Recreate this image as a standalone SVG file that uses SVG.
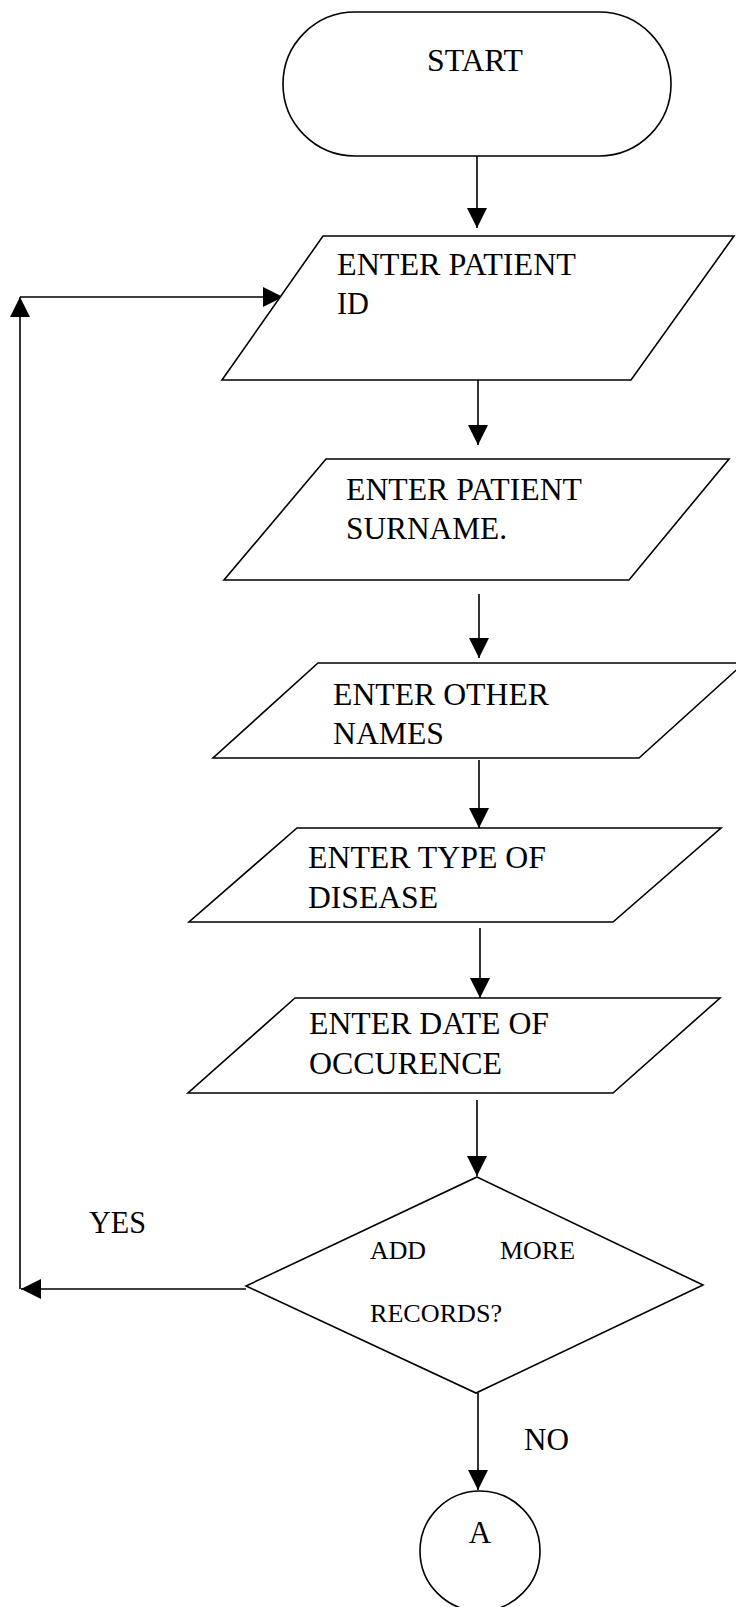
<svg xmlns="http://www.w3.org/2000/svg" width="736" height="1607" viewBox="0 0 736 1607">
<style>
.s{fill:#fff;stroke:#000;stroke-width:1.6}
.c{fill:none;stroke:#000;stroke-width:1.6}
.t{font-family:"Liberation Serif","Times New Roman",serif;font-size:31px;fill:#000}
.d{font-family:"Liberation Serif","Times New Roman",serif;font-size:25px;fill:#000}
</style>
<defs>
<marker id="ah" viewBox="0 0 20 20" refX="20" refY="10" markerWidth="20" markerHeight="20" markerUnits="userSpaceOnUse" orient="auto">
<path d="M0,0 L20,10 L0,20 z" fill="#000"/>
</marker>
</defs>
<rect width="736" height="1607" fill="#fff"/>
<g id="connectors">
<line class="c" x1="477" y1="156" x2="477" y2="228" marker-end="url(#ah)"/>
<line class="c" x1="478" y1="380" x2="478" y2="445" marker-end="url(#ah)"/>
<line class="c" x1="479" y1="594" x2="479" y2="658" marker-end="url(#ah)"/>
<line class="c" x1="479" y1="760" x2="479" y2="828" marker-end="url(#ah)"/>
<line class="c" x1="480" y1="928" x2="480" y2="998" marker-end="url(#ah)"/>
<line class="c" x1="477" y1="1100" x2="477" y2="1176" marker-end="url(#ah)"/>
<line class="c" x1="478" y1="1393" x2="478" y2="1490" marker-end="url(#ah)"/>
<line class="c" x1="246" y1="1289" x2="21" y2="1289" marker-end="url(#ah)"/>
<line class="c" x1="20" y1="1289" x2="20" y2="297" marker-end="url(#ah)"/>
<line class="c" x1="20" y1="297" x2="283" y2="297" marker-end="url(#ah)"/>
<text class="t" x="89" y="1233" font-size="30" textLength="57" lengthAdjust="spacingAndGlyphs">YES</text>
<text class="t" x="524" y="1450" font-size="30" textLength="45" lengthAdjust="spacingAndGlyphs">NO</text>
</g>
<g id="start">
<rect class="s" x="283" y="12" width="388" height="144" rx="72" ry="72"/>
<text class="t" x="427" y="71" font-size="30" textLength="96" lengthAdjust="spacingAndGlyphs">START</text>
</g>
<g id="patient-id">
<polygon class="s" points="323,236 734,236 631,380 222,380"/>
<text class="t" x="337" y="275" textLength="239" lengthAdjust="spacingAndGlyphs">ENTER PATIENT</text>
<text class="t" x="337" y="314" textLength="32" lengthAdjust="spacingAndGlyphs">ID</text>
</g>
<g id="patient-surname">
<polygon class="s" points="326,459 729,459 629,580 224,580"/>
<text class="t" x="346" y="500" textLength="236" lengthAdjust="spacingAndGlyphs">ENTER PATIENT</text>
<text class="t" x="346" y="539" textLength="161" lengthAdjust="spacingAndGlyphs">SURNAME.</text>
</g>
<g id="other-names">
<polygon class="s" points="318,663 744,663 639,758 213,758"/>
<text class="t" x="333" y="705" textLength="216" lengthAdjust="spacingAndGlyphs">ENTER OTHER</text>
<text class="t" x="333" y="744" textLength="111" lengthAdjust="spacingAndGlyphs">NAMES</text>
</g>
<g id="disease-type">
<polygon class="s" points="297,828 721,828 613,922 189,922"/>
<text class="t" x="308" y="868" textLength="238" lengthAdjust="spacingAndGlyphs">ENTER TYPE OF</text>
<text class="t" x="308" y="908" textLength="130" lengthAdjust="spacingAndGlyphs">DISEASE</text>
</g>
<g id="occurrence-date">
<polygon class="s" points="295,998 720,998 613,1093 188,1093"/>
<text class="t" x="309" y="1034" textLength="240" lengthAdjust="spacingAndGlyphs">ENTER DATE OF</text>
<text class="t" x="309" y="1074" textLength="193" lengthAdjust="spacingAndGlyphs">OCCURENCE</text>
</g>
<g id="decision">
<polygon class="s" points="477,1177 703,1285 476,1393 246,1286"/>
<text class="d" x="370" y="1259" textLength="56" lengthAdjust="spacingAndGlyphs">ADD</text>
<text class="d" x="500" y="1259" textLength="75" lengthAdjust="spacingAndGlyphs">MORE</text>
<text class="d" x="370" y="1322" textLength="132" lengthAdjust="spacingAndGlyphs">RECORDS?</text>
</g>
<g id="connector-a">
<circle class="s" cx="480" cy="1551" r="60"/>
<text class="t" x="480" y="1543" font-size="28" text-anchor="middle">A</text>
</g>
</svg>
